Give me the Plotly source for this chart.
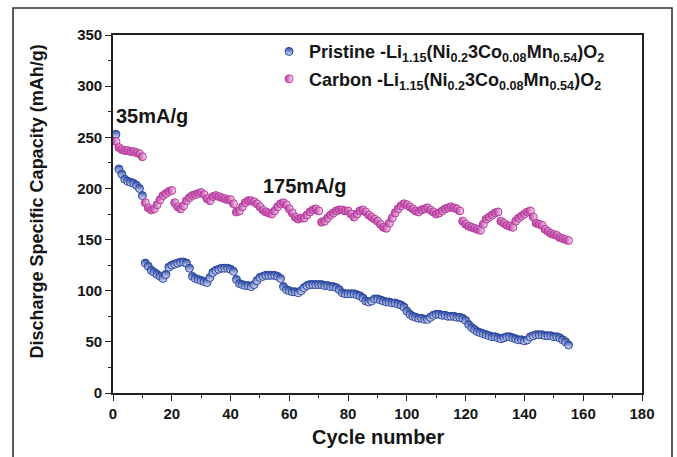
import plotly.graph_objects as go

# Cycle index shared by both samples
cycles = list(range(1, 156))

# Discharge capacity (mAh/g): cycles 1-10 at 35 mA/g, then 175 mA/g
pristine = [
    253, 219, 214, 209, 207, 206, 205, 203, 200, 193,
    127, 124, 120, 118, 116, 114, 112, 116, 123, 125,
    126, 127, 128, 128, 127, 122, 114, 112, 111, 110,
    109, 108, 113, 118, 120, 121, 122, 122, 122, 121,
    119, 111, 107, 106, 105, 105, 104, 106, 110, 113,
    114, 115, 115, 115, 115, 114, 112, 104, 101, 100,
    99, 99, 98, 100, 103, 105, 106, 106, 106, 106,
    106, 105, 105, 104, 104, 103, 101, 98, 97, 97,
    97, 97, 96, 95, 93, 90, 89, 90, 92, 92,
    91, 90, 89, 89, 88, 88, 87, 86, 84, 80,
    77, 75, 74, 73, 73, 72, 72, 74, 76, 77,
    77, 76, 76, 75, 75, 75, 74, 74, 73, 71,
    67, 64, 62, 60, 59, 58, 57, 56, 55, 55,
    54, 53, 54, 55, 55, 54, 53, 52, 52, 51,
    52, 55, 56, 57, 57, 57, 56, 56, 56, 55,
    55, 54, 52, 50, 47,
]

carbon = [
    246, 240, 238, 237, 237, 236, 236, 235, 234, 231,
    186, 181, 179, 180, 184, 189, 193, 195, 197, 198,
    186, 182, 180, 183, 188, 191, 193, 194, 195, 196,
    194, 190, 188, 192, 193, 192, 191, 190, 189, 189,
    185, 177, 178, 182, 186, 188, 188, 187, 185, 182,
    179, 177, 176, 175, 178, 182, 185, 186, 184, 180,
    176, 172, 170, 171, 171, 174, 177, 179, 180, 178,
    167, 168, 171, 174, 176, 178, 179, 179, 178, 178,
    175, 172, 175, 178, 179, 177, 174, 172, 170, 168,
    165, 162, 161, 166, 171, 176, 180, 183, 185, 184,
    182, 180, 178, 177, 179, 180, 181, 179, 177, 175,
    176, 178, 180, 181, 182, 181, 180, 178, 168, 165,
    163, 162, 161, 160, 159, 165, 170, 172, 174, 176,
    177, 168, 166, 164, 163, 162, 168, 171, 173, 175,
    177, 178, 172, 166, 165, 164, 160, 158, 156, 155,
    154, 152, 151, 150, 149,
]

name_pristine = "Pristine -Li<sub>1.15</sub>(Ni<sub>0.2</sub>3Co<sub>0.08</sub>Mn<sub>0.54</sub>)O<sub>2</sub>"
name_carbon = "Carbon -Li<sub>1.15</sub>(Ni<sub>0.2</sub>3Co<sub>0.08</sub>Mn<sub>0.54</sub>)O<sub>2</sub>"

BLUE = "#2B47A3"
MAGENTA = "#B8389E"
FONT = "Liberation Sans, Arial, sans-serif"
INK = "#151515"

fig = go.Figure()
fig.add_trace(go.Scatter(
    x=cycles, y=pristine, mode="markers", name=name_pristine,
    legendgroup="a",
    marker=dict(symbol="circle", size=8, color=BLUE,
                gradient=dict(type="vertical", color="#E4E8F8"),
                line=dict(color=BLUE, width=1)),
))
fig.add_trace(go.Scatter(
    x=cycles, y=carbon, mode="markers", name=name_carbon,
    legendgroup="b",
    marker=dict(symbol="circle", size=8, color=MAGENTA,
                gradient=dict(type="horizontal", color="#FBE6F5"),
                line=dict(color=MAGENTA, width=1)),
))

axis_common = dict(
    showline=True, linecolor="#222", linewidth=1.6, mirror=True,
    ticks="outside", ticklen=6, tickwidth=1.4, tickcolor="#222",
    showgrid=False, zeroline=False,
    tickfont=dict(family=FONT, size=15, color=INK, weight="bold"),
)

fig.update_xaxes(range=[0, 180], tick0=0, dtick=20,
                 minor=dict(ticks="outside", ticklen=3, dtick=10, tickcolor="#222", tickwidth=1.2),
                 **axis_common)
fig.update_yaxes(range=[0, 350], tick0=0, dtick=50,
                 minor=dict(ticks="outside", ticklen=3, dtick=25, tickcolor="#222", tickwidth=1.2),
                 **axis_common)

fig.update_layout(
    width=677, height=457,
    margin=dict(l=113, r=35, t=35, b=64),
    paper_bgcolor="white", plot_bgcolor="white",
    showlegend=True,
    legend=dict(x=0.295, y=1.005, xanchor="left", yanchor="top",
                bgcolor="rgba(0,0,0,0)", tracegroupgap=1,
                font=dict(family=FONT, size=18, color=INK, weight="bold")),
    annotations=[
        dict(text="Discharge Specific Capacity (mAh/g)", xref="paper", yref="paper",
             x=-0.1437, y=0.535, xanchor="center", yanchor="middle",
             textangle=-90, showarrow=False,
             font=dict(family=FONT, size=18, color=INK, weight="bold")),
        dict(text="Cycle number", xref="paper", yref="paper",
             x=0.501, y=-0.123, xanchor="center", yanchor="middle", showarrow=False,
             font=dict(family=FONT, size=20, color=INK, weight="bold")),
        dict(text="35mA/g", xref="paper", yref="paper", x=0.002, y=0.774,
             xanchor="left", yanchor="middle", showarrow=False,
             font=dict(family=FONT, size=20, color=INK, weight="bold")),
        dict(text="175mA/g", xref="paper", yref="paper", x=0.28, y=0.578,
             xanchor="left", yanchor="middle", showarrow=False,
             font=dict(family=FONT, size=20, color=INK, weight="bold")),
    ],
    shapes=[
        dict(type="rect", xref="paper", yref="paper",
             x0=-0.189, x1=1.0567, y0=-0.2, y1=1.0754,
             line=dict(color="#333", width=1.6), fillcolor="rgba(0,0,0,0)", layer="below"),
    ],
)

fig.write_html("out.html")
